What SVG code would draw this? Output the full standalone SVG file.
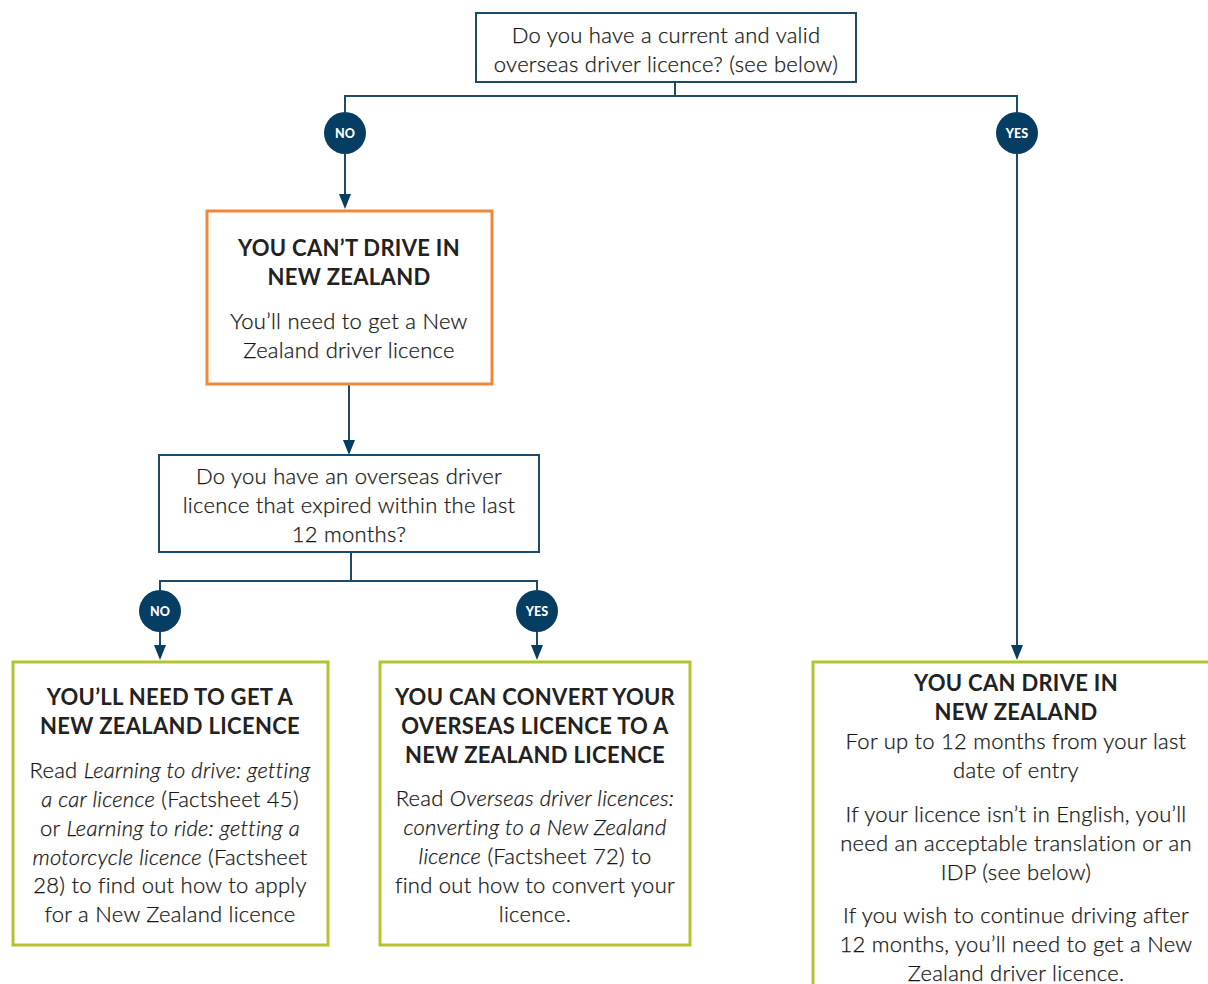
<svg xmlns="http://www.w3.org/2000/svg" width="1208" height="984" viewBox="0 0 1208 984">
<style>
  .q { fill: #fff; stroke: #1b4a6b; stroke-width: 2; }
  .g { fill: #fff; stroke: #b5c332; stroke-width: 3; }
  .o { fill: #fff; stroke: #f0883a; stroke-width: 3; }
  .t { font-family: Lato, "Noto Sans", sans-serif; font-size: 22px; font-weight: 300; letter-spacing: 0.25px; fill: #161616; stroke: #161616; stroke-width: 0.25px; text-anchor: middle; }
  .b { font-weight: bold; font-size: 22px; letter-spacing: 0.3px; fill: #222; stroke: none; }
  .i { font-style: italic; }
  .badge { fill: #063d62; }
  .bt { font-family: Lato, "Noto Sans", sans-serif; font-size: 12.5px; font-weight: 900; fill: #fff; text-anchor: middle; }
  .ln { fill: none; stroke: #1b4a6b; stroke-width: 2; }
</style>
<rect width="1208" height="984" fill="#fff"/>

<g id="connectors">
  <path class="ln" d="M675,82 V96"/>
  <path class="ln" d="M345,112 V96 H1017 V112"/>
  <path class="ln" d="M345,154 V194"/>
  <polygon points="339,194 351,194 345,209" fill="#063d62"/>
  <path class="ln" d="M1017,154 V645"/>
  <polygon points="1011,645 1023,645 1017,660" fill="#063d62"/>
  <path class="ln" d="M349,385 V440"/>
  <polygon points="343,440 355,440 349,455" fill="#063d62"/>
  <path class="ln" d="M351,553 V581"/>
  <path class="ln" d="M160,590 V581 H537 V590"/>
  <path class="ln" d="M160,632 V645"/>
  <polygon points="154,645 166,645 160,660" fill="#063d62"/>
  <path class="ln" d="M537,632 V645"/>
  <polygon points="531,645 543,645 537,660" fill="#063d62"/>
</g>

<g id="badge-no-1"><circle class="badge" cx="345" cy="133" r="21"/><text class="bt" x="345" y="137.5">NO</text></g>
<g id="badge-yes-1"><circle class="badge" cx="1017" cy="133" r="21"/><text class="bt" x="1017" y="137.5">YES</text></g>
<g id="badge-no-2"><circle class="badge" cx="160" cy="611" r="21"/><text class="bt" x="160" y="615.5">NO</text></g>
<g id="badge-yes-2"><circle class="badge" cx="537" cy="611" r="21"/><text class="bt" x="537" y="615.5">YES</text></g>

<g id="q1">
  <rect class="q" x="476" y="13" width="380" height="69"/>
  <text class="t" x="666" y="43">Do you have a current and valid</text>
  <text class="t" x="666" y="72">overseas driver licence? (see below)</text>
</g>

<g id="cant-drive">
  <rect class="o" x="207" y="211" width="285" height="173"/>
  <text class="t b" x="349" y="256">YOU CAN’T DRIVE IN</text>
  <text class="t b" x="349" y="285">NEW ZEALAND</text>
  <text class="t" x="349" y="329">You’ll need to get a New</text>
  <text class="t" x="349" y="358">Zealand driver licence</text>
</g>

<g id="q2">
  <rect class="q" x="159" y="455" width="380" height="97"/>
  <text class="t" x="349" y="484">Do you have an overseas driver</text>
  <text class="t" x="349" y="513">licence that expired within the last</text>
  <text class="t" x="349" y="542">12 months?</text>
</g>

<g id="need-nz">
  <rect class="g" x="13" y="662" width="315" height="283"/>
  <text class="t b" x="170" y="705">YOU’LL NEED TO GET A</text>
  <text class="t b" x="170" y="734">NEW ZEALAND LICENCE</text>
  <text class="t" x="170" y="778">Read <tspan class="i">Learning to drive: getting</tspan></text>
  <text class="t" x="170" y="807"><tspan class="i">a car licence</tspan> (Factsheet 45)</text>
  <text class="t" x="170" y="836">or <tspan class="i">Learning to ride: getting a</tspan></text>
  <text class="t" x="170" y="865"><tspan class="i">motorcycle licence</tspan> (Factsheet</text>
  <text class="t" x="170" y="893">28) to find out how to apply</text>
  <text class="t" x="170" y="922">for a New Zealand licence</text>
</g>

<g id="convert">
  <rect class="g" x="380" y="662" width="310" height="283"/>
  <text class="t b" x="535" y="705">YOU CAN CONVERT YOUR</text>
  <text class="t b" x="535" y="734">OVERSEAS LICENCE TO A</text>
  <text class="t b" x="535" y="763">NEW ZEALAND LICENCE</text>
  <text class="t" x="535" y="806">Read <tspan class="i">Overseas driver licences:</tspan></text>
  <text class="t" x="535" y="835"><tspan class="i">converting to a New Zealand</tspan></text>
  <text class="t" x="535" y="864"><tspan class="i">licence</tspan> (Factsheet 72) to</text>
  <text class="t" x="535" y="893">find out how to convert your</text>
  <text class="t" x="535" y="922">licence.</text>
</g>

<g id="can-drive">
  <rect class="g" x="813" y="662" width="410" height="340"/>
  <text class="t b" x="1016" y="691">YOU CAN DRIVE IN</text>
  <text class="t b" x="1016" y="720">NEW ZEALAND</text>
  <text class="t" x="1016" y="749">For up to 12 months from your last</text>
  <text class="t" x="1016" y="778">date of entry</text>
  <text class="t" x="1016" y="822">If your licence isn’t in English, you’ll</text>
  <text class="t" x="1016" y="851">need an acceptable translation or an</text>
  <text class="t" x="1016" y="880">IDP (see below)</text>
  <text class="t" x="1016" y="923">If you wish to continue driving after</text>
  <text class="t" x="1016" y="952">12 months, you’ll need to get a New</text>
  <text class="t" x="1016" y="981">Zealand driver licence.</text>
</g>
</svg>
